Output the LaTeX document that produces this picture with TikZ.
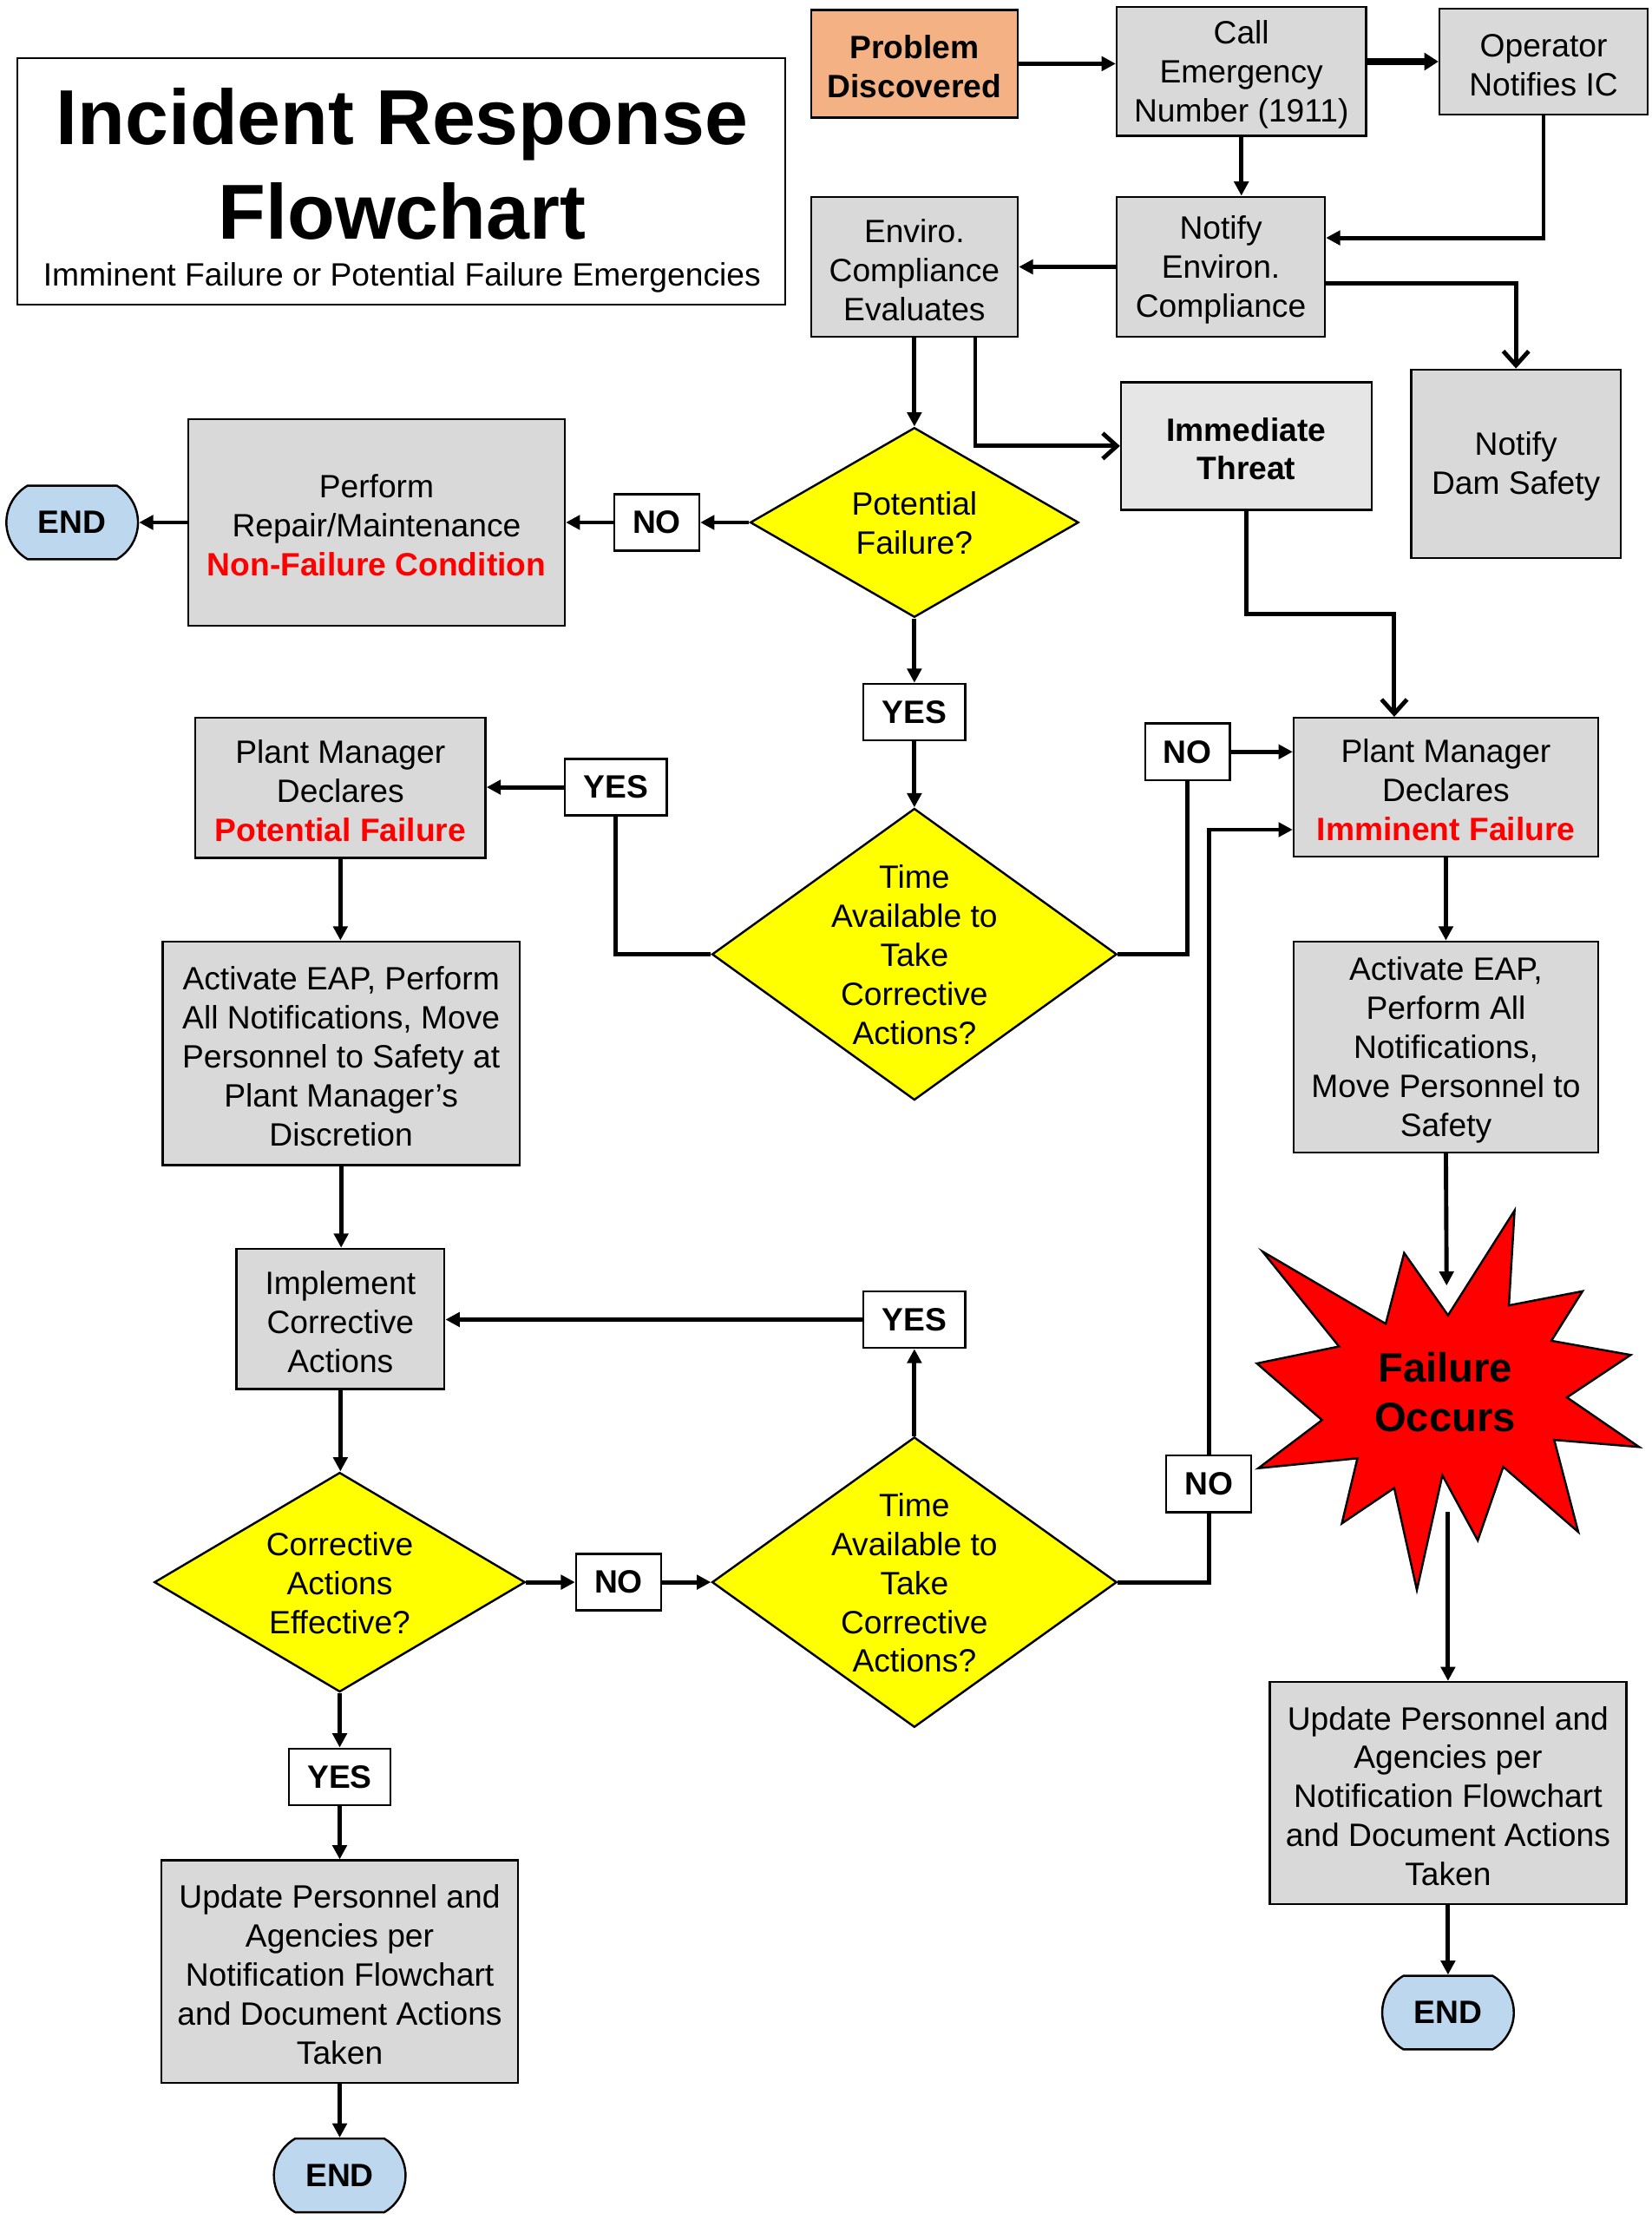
\documentclass[tikz,border=0pt]{standalone}
\usepackage{fontspec}
\setmainfont{Liberation Sans}
\usetikzlibrary{arrows.meta,shapes.geometric,shapes.misc,calc}
\definecolor{boxgray}{HTML}{D9D9D9}
\definecolor{itgray}{HTML}{E7E6E6}
\definecolor{peach}{HTML}{F4B183}
\definecolor{endblue}{HTML}{BDD7EE}
\definecolor{dyellow}{HTML}{FFFF00}
\definecolor{fred}{HTML}{FF0000}
\newcommand{\bodyfont}{\fontsize{22.8}{27.5}\selectfont}
\newcommand{\redb}[1]{{\bfseries\color{fred}#1}}
\newcommand{\ts}{\rule{0pt}{20.6pt}}
\begin{document}
\begin{tikzpicture}[x=1pt,y=-1pt,
  box/.style={draw, line width=1.5pt, fill=boxgray, rectangle, align=center, inner sep=0pt, font=\bodyfont},
  lbl/.style={draw, line width=1.5pt, fill=white, rectangle, align=center, inner sep=0pt, font=\bodyfont\bfseries, minimum height=40pt},
  dia/.style={draw, line width=1.5pt, fill=dyellow, diamond, inner sep=0pt},
  dtext/.style={align=center, font=\bodyfont, inner sep=0pt},
  endbox/.style={draw, line width=1.5pt, fill=endblue, rounded rectangle, rounded rectangle arc length=120, inner sep=0pt, font=\bodyfont\bfseries, minimum width=93pt, minimum height=52pt},
  arr/.style={line width=3pt, -{Triangle[length=10pt,width=10pt]}},
  oarr/.style={line width=3pt, -{Straight Barb[length=10pt,width=18pt]}},
  ln/.style={line width=3pt},
]
\useasboundingbox (0,0) rectangle (1167,1568);
\fill[white] (0,0) rectangle (1167,1568);

% title
\node[draw, line width=1.2pt, fill=white, minimum width=543pt, minimum height=174pt, inner sep=0pt] (titlebox) at (283.5,128) {};
\node[font=\fontsize{55}{67}\selectfont\bfseries, align=center, inner sep=0pt] (title) at (284,116) {Incident Response\\Flowchart};
\node[font=\bodyfont, inner sep=0pt] (subtitle) at (284,196) {Imminent Failure or Potential Failure Emergencies};

% top row
\node[box, fill=peach, font=\bodyfont\bfseries, minimum width=146pt, minimum height=76pt] (PD) at (646,45) {\ts Problem\\Discovered};
\node[box, minimum width=176pt, minimum height=91pt] (CE) at (877,50.5) {\ts Call\\Emergency\\Number (1911)};
\node[box, minimum width=147pt, minimum height=75pt] (OP) at (1090.5,43.5) {\ts Operator\\Notifies IC};
\node[box, minimum width=146pt, minimum height=99pt] (EV) at (646,188.5) {\ts Enviro.\\Compliance\\Evaluates};
\node[box, minimum width=147pt, minimum height=99pt] (NE) at (862.5,188.5) {\ts Notify\\Environ.\\Compliance};
\node[box, fill=itgray, font=\bodyfont\bfseries, minimum width=177pt, minimum height=90pt] (IT) at (880.5,315) {\ts Immediate\\Threat};
\node[box, minimum width=148pt, minimum height=133pt] (DS) at (1071,327.5) {\ts Notify\\Dam Safety};

% potential failure row
\node[dia, minimum width=232pt, minimum height=134pt] (PF) at (646,369) {};
\node[dtext] (PFt) at (646,369.5) {Potential\\Failure?};
\node[box, minimum width=266pt, minimum height=146pt] (PR) at (266,369) {\ts Perform\\Repair/Maintenance\\\redb{Non-Failure Condition}};
\node[endbox] (END1) at (51,369) {END};
\node[lbl, minimum width=60pt] (NO1) at (464,369) {NO};
\node[lbl, minimum width=72pt] (YES1) at (646,503) {YES};

% time available 1
\node[dia, minimum width=286pt, minimum height=206pt] (TA1) at (646,674) {};
\node[dtext] (TA1t) at (646,674.5) {Time\\Available to\\Take\\Corrective\\Actions?};
\node[lbl, minimum width=72pt] (YES2) at (435,556) {YES};
\node[box, minimum width=205pt, minimum height=99pt] (PMP) at (240.5,556.5) {\ts Plant Manager\\Declares\\\redb{Potential Failure}};
\node[lbl, minimum width=60pt] (NO2) at (839,531) {NO};
\node[box, minimum width=215pt, minimum height=98pt] (PMI) at (1021.5,556) {\ts Plant Manager\\Declares\\\redb{Imminent Failure}};

\node[box, minimum width=252pt, minimum height=158pt] (EAPL) at (241,744) {\ts Activate EAP, Perform\\All Notifications, Move\\Personnel to Safety at\\Plant Manager’s\\Discretion};
\node[box, minimum width=215pt, minimum height=149pt] (EAPR) at (1021.5,739.5) {\ts Activate EAP,\\Perform All\\Notifications,\\Move Personnel to\\Safety};

\node[box, minimum width=147pt, minimum height=99pt] (ICA) at (240.5,931.5) {\ts Implement\\Corrective\\Actions};
\node[lbl, minimum width=72pt] (YES3) at (646,932) {YES};

% failure occurs starburst
\draw[line width=1.5pt, fill=fred, line join=miter]
  (992,885) -- (1023,929) -- (1070,855) -- (1066,922) -- (1118,912) -- (1096,947)
  -- (1152,957) -- (1107,987) -- (1158,1022) -- (1098,1017) -- (1115,1082) -- (1062,1036)
  -- (1044,1088) -- (1019,1042) -- (1001,1123) -- (985,1051) -- (948,1076) -- (959,1030)
  -- (889,1037) -- (934,1003) -- (888,963) -- (946,951) -- (892,884) -- (979,935) -- cycle;
\node[font=\fontsize{29}{35}\selectfont\bfseries, align=center, inner sep=0pt] (FO) at (1021,983) {Failure\\Occurs};
\coordinate (FOtop) at (1022,908);
\coordinate (FObot) at (1023,1068);

\node[lbl, minimum width=60pt] (NO3) at (854,1048) {NO};
\node[dia, minimum width=262pt, minimum height=155pt] (CAE) at (240,1117.5) {};
\node[dtext] (CAEt) at (240,1118) {Corrective\\Actions\\Effective?};
\node[lbl, minimum width=60pt] (NO4) at (437,1117.5) {NO};
\node[dia, minimum width=286pt, minimum height=205pt] (TA2) at (646,1117.5) {};
\node[dtext] (TA2t) at (646,1118) {Time\\Available to\\Take\\Corrective\\Actions?};
\node[lbl, minimum width=72pt] (YES4) at (240,1255) {YES};
\node[box, minimum width=252pt, minimum height=157pt] (UPL) at (240,1392.5) {\ts Update Personnel and\\Agencies per\\Notification Flowchart\\and Document Actions\\Taken};
\node[endbox] (END3) at (240,1536.5) {END};
\node[box, minimum width=252pt, minimum height=157pt] (UPR) at (1023,1266.5) {\ts Update Personnel and\\Agencies per\\Notification Flowchart\\and Document Actions\\Taken};
\node[endbox] (END2) at (1023,1421.5) {END};

% connectors
\draw[arr] (PD.east) -- (PD.east -| CE.west);
\draw[line width=4.5pt, -{Triangle[length=10pt,width=12pt]}] (OP.west -| CE.east) -- (OP.west);
\draw[arr] (CE.south) -- (CE.south |- NE.north);
\draw[arr] (OP.south) |- ($(NE.east)+(0,-20.5)$);
\draw[arr] (NE.west) -- (EV.east);
\draw[oarr] ($(NE.east)+(0,11.5)$) -| (DS.north);
\draw[arr] (EV.south) -- (PF.north);
\draw[oarr] ($(EV.south)+(43,0)$) |- (IT.west);
\draw[oarr] (IT.south) -- ++(0,73) -| ($(PMI.north)+(-36.5,0)$);
\draw[arr] (PF.west) -- (NO1.east);
\draw[arr] (NO1.west) -- (PR.east);
\draw[arr] (PR.west) -- (END1.east);
\draw[arr] (PF.south) -- (YES1.north);
\draw[arr] (YES1.south) -- (TA1.north);
\draw[ln] (TA1.west) -| (YES2.south);
\draw[arr] (YES2.west) -- (YES2.west -| PMP.east);
\draw[ln] (TA1.east) -| (NO2.south);
\draw[arr] (NO2.east) -- (NO2.east -| PMI.west);
\draw[arr] (PMP.south) -- (PMP.south |- EAPL.north);
\draw[arr] (EAPL.south) -- (EAPL.south |- ICA.north);
\draw[arr] (PMI.south) -- (EAPR.north);
\draw[arr] (EAPR.south) -- (FOtop);
\draw[arr] (ICA.south) -- (ICA.south |- CAE.north);
\draw[arr] (CAE.east) -- (NO4.west);
\draw[arr] (NO4.east) -- (TA2.west);
\draw[arr] (TA2.north) -- (YES3.south);
\draw[arr] (YES3.west) -- (YES3.west -| ICA.east);
\draw[ln] (TA2.east) -| (NO3.south);
\draw[arr] (NO3.north) |- ($(PMI.west)+(0,30)$);
\draw[arr] (CAE.south) -- (CAE.south |- YES4.north);
\draw[arr] (YES4.south) -- (YES4.south |- UPL.north);
\draw[arr] (UPL.south) -- (UPL.south |- END3.north);
\draw[arr] (FObot) -- (FObot |- UPR.north);
\draw[arr] (UPR.south) -- (UPR.south |- END2.north);
\end{tikzpicture}
\end{document}
